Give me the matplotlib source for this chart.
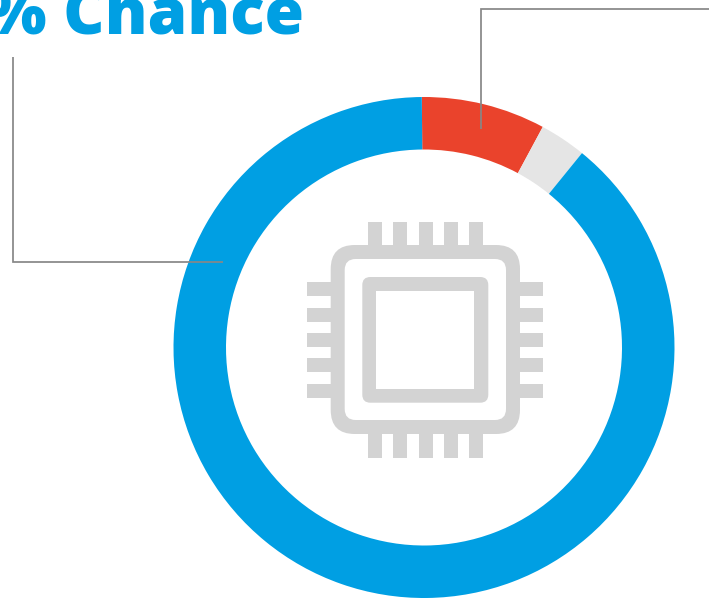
import matplotlib
matplotlib.use('Agg')
import matplotlib.pyplot as plt
from matplotlib.patches import FancyBboxPatch, Rectangle

W, H = 709, 598

segments = ['red', 'other', 'blue']
shares = [8, 3, 89]
colors = ['#EA432C', '#E5E5E5', '#009FE3']
title = '% Chance'

CHIP = '#D3D3D3'
LEADER = '#878787'


def y_px(y):
    # picture coordinates have y going down
    return H - y


def box(ax, x0, y0, x1, y1, color, rounding=0.0):
    if rounding:
        p = FancyBboxPatch((x0, y_px(y1)), x1 - x0, y1 - y0,
                           boxstyle=f'round,pad=0,rounding_size={rounding}',
                           facecolor=color, edgecolor='none')
    else:
        p = Rectangle((x0, y_px(y1)), x1 - x0, y1 - y0, facecolor=color, edgecolor='none')
    ax.add_patch(p)


fig = plt.figure(figsize=(W / 100, H / 100), dpi=100)
ax = fig.add_axes([0, 0, 1, 1])

ax.pie(shares, colors=colors, startangle=90.5, counterclock=False,
       center=(424, y_px(347.5)), radius=250.5,
       wedgeprops=dict(width=52.5, linewidth=0), frame=True)
ax.set_xlim(0, W)
ax.set_ylim(0, H)
ax.set_aspect('auto')
ax.axis('off')

# leader lines
ax.plot([12.5, 12.5, 223], [y_px(57), y_px(262), y_px(262)], color=LEADER, lw=1.25,
        solid_joinstyle='miter', solid_capstyle='butt')
ax.plot([709, 481, 481], [y_px(8.5), y_px(8.5), y_px(129)], color=LEADER, lw=1.25,
        solid_joinstyle='miter', solid_capstyle='butt')

# chip icon
for x0, x1 in [(367.7, 381.7), (393, 407), (418.5, 432.5), (444, 458), (469.3, 483.3)]:
    box(ax, x0, 222, x1, 458, CHIP)
for y0, y1 in [(282, 296), (307.7, 321.7), (333, 347), (358.3, 372.3), (383.7, 397.7)]:
    box(ax, 307.3, y0, 542.7, y1, CHIP)
box(ax, 330.7, 245, 520, 434, CHIP, rounding=24)
box(ax, 344.7, 259, 506, 420, 'white', rounding=11)
box(ax, 362.3, 277, 488.3, 402.7, CHIP, rounding=8)
box(ax, 376.3, 291, 474.3, 389, 'white')

ax.text(303.5, y_px(33.5), title, ha='right', va='baseline', color='#009FE3',
        fontsize=46, fontweight=800, family=['Open Sans', 'DejaVu Sans'])

fig.savefig('out.png', dpi=100)
